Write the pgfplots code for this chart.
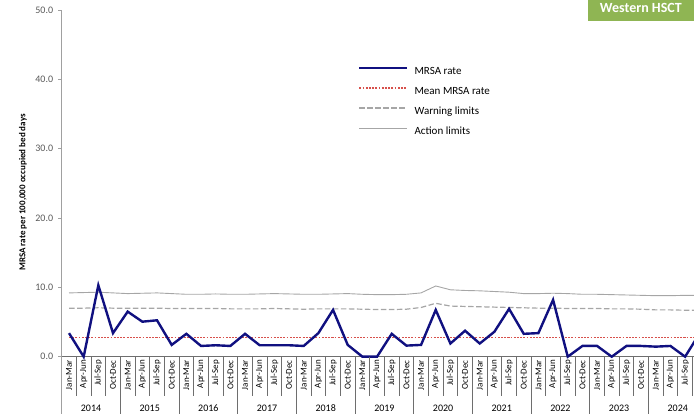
\documentclass[border=0pt]{standalone}
\usepackage{fontspec}
\setmainfont{Carlito}
\usepackage{pgfplots}
\usepackage{pgfplotstable}
\pgfplotsset{compat=1.18}
\definecolor{mrsa}{RGB}{16,16,128}
\definecolor{meanc}{RGB}{215,80,75}
\definecolor{limc}{RGB}{166,166,166}
\definecolor{axc}{RGB}{160,160,160}
\definecolor{sepc}{RGB}{110,110,110}
\definecolor{titlec}{RGB}{143,181,83}
\definecolor{tickc}{RGB}{89,89,89}

\pgfplotstableread{
x rate mean warn act
0 3.4 2.74 7.00 9.20
1 0 2.74 7.00 9.25
2 10.3 2.74 7.05 9.30
3 3.4 2.74 7.00 9.20
4 6.5 2.74 7.00 9.10
5 5.05 2.74 7.00 9.15
6 5.25 2.74 7.00 9.20
7 1.7 2.74 6.95 9.10
8 3.3 2.74 6.95 9.00
9 1.55 2.74 6.95 9.00
10 1.65 2.74 6.95 9.05
11 1.55 2.74 6.90 9.00
12 3.3 2.74 6.90 9.00
13 1.65 2.74 6.90 9.05
14 1.65 2.74 6.95 9.10
15 1.65 2.74 6.90 9.05
16 1.55 2.74 6.85 9.00
17 3.4 2.74 6.90 9.00
18 6.75 2.74 6.90 9.05
19 1.7 2.74 6.90 9.10
20 0 2.74 6.85 9.00
21 0 2.74 6.80 8.95
22 3.3 2.74 6.80 8.95
23 1.6 2.74 6.85 9.00
24 1.7 2.74 7.10 9.20
25 6.75 2.74 7.70 10.20
26 1.9 2.74 7.30 9.65
27 3.75 2.74 7.25 9.55
28 1.9 2.74 7.20 9.50
29 3.6 2.74 7.15 9.40
30 6.9 2.74 7.10 9.30
31 3.3 2.74 7.05 9.10
32 3.4 2.74 7.00 9.10
33 8.2 2.74 7.00 9.15
34 0 2.74 6.95 9.10
35 1.55 2.74 6.95 9.00
36 1.55 2.74 6.95 9.00
37 0 2.74 6.90 8.95
38 1.55 2.74 6.90 8.90
39 1.55 2.74 6.85 8.85
40 1.45 2.74 6.75 8.80
41 1.55 2.74 6.75 8.80
42 0 2.74 6.70 8.85
43 3.4 2.74 6.70 8.85
}\data

\begin{document}
\begin{tikzpicture}
\useasboundingbox (-61.67pt,-57.3pt) rectangle (632.33pt,356.7pt);
\clip (-61.67pt,-57.3pt) rectangle (632.33pt,356.7pt);
\begin{axis}[
  scale only axis, width=633.7pt, height=346.7pt,
  xmin=-0.5, xmax=42.7, ymin=0, ymax=50,
  clip=false,
  axis x line*=bottom, axis y line*=left,
  x axis line style={draw=sepc, line width=0.8pt},
  y axis line style={draw=axc, line width=1.5pt},
  xtick={0,...,43},
  xticklabels={Jan-Mar,Apr-Jun,Jul-Sep,Oct-Dec,Jan-Mar,Apr-Jun,Jul-Sep,Oct-Dec,Jan-Mar,Apr-Jun,Jul-Sep,Oct-Dec,Jan-Mar,Apr-Jun,Jul-Sep,Oct-Dec,Jan-Mar,Apr-Jun,Jul-Sep,Oct-Dec,Jan-Mar,Apr-Jun,Jul-Sep,Oct-Dec,Jan-Mar,Apr-Jun,Jul-Sep,Oct-Dec,Jan-Mar,Apr-Jun,Jul-Sep,Oct-Dec,Jan-Mar,Apr-Jun,Jul-Sep,Oct-Dec,Jan-Mar,Apr-Jun,Jul-Sep,Oct-Dec,Jan-Mar,Apr-Jun,Jul-Sep,Oct-Dec},
  xticklabel style={rotate=90, anchor=east, font=\fontsize{9}{11}\selectfont},
  ytick={0,10,...,50}, minor ytick={0,10,...,50},
  major tick length=0pt, minor tick length=3.5pt, tick align=outside,
  minor tick style={draw=axc, line width=0.8pt},
  /pgf/number format/assume math mode=true,
  yticklabel style={font=\fontsize{10}{12}\selectfont, text=tickc, xshift=-5pt,
    /pgf/number format/fixed, /pgf/number format/fixed zerofill, /pgf/number format/precision=1},
  ylabel={MRSA rate per 100,000 occupied bed days},
  ylabel style={at={(axis description cs:-0.061,0.474)}, anchor=center, font=\bfseries\fontsize{9}{11}\selectfont},
  title={Western HSCT},
  title style={at={(axis description cs:0.914,0.988)}, anchor=center, fill=titlec, text=white,
    font=\bfseries\fontsize{14}{16}\selectfont, minimum width=106pt, minimum height=25pt, inner sep=0pt},
  legend style={at={(axis description cs:0.4676,0.8376)}, anchor=north west, draw=none, fill=none,
    font=\fontsize{11}{13}\selectfont, inner sep=0pt, column sep=6.3pt, row sep=10pt,
    nodes={inner sep=0pt, text height=8pt, text depth=2pt}},
  legend cell align=left,
  legend image code/.code={\draw[#1] (0pt,3.5pt) -- (47.7pt,3.5pt);},
]
\addlegendimage{mrsa, line width=2.4pt}
\addlegendentry{MRSA rate}
\addlegendimage{color=meanc, line width=1.2pt, dash pattern=on 1.8pt off 1.4pt}
\addlegendentry{Mean MRSA rate}
\addlegendimage{limc, line width=1.2pt, dash pattern=on 5.5pt off 2.5pt}
\addlegendentry{Warning limits}
\addlegendimage{limc, line width=0.9pt}
\addlegendentry{Action limits}

\addplot[color=limc, line width=0.9pt, forget plot] table[x=x, y=act] {\data};
\addplot[color=limc, line width=1.2pt, dash pattern=on 5.5pt off 2.5pt, forget plot] table[x=x, y=warn] {\data};
\addplot[color=meanc, line width=1.2pt, dash pattern=on 1.8pt off 1.4pt, forget plot] table[x=x, y=mean] {\data};
\addplot[color=mrsa, line width=2.4pt, line join=miter, forget plot] table[x=x, y=rate] {\data};

\pgfplotsinvokeforeach{0.5,1.5,...,42.5}{\draw[sepc, line width=0.6pt] (axis cs:#1,0) -- ++(0pt,-39.3pt);}
\pgfplotsinvokeforeach{3.5,7.5,...,39.5}{\draw[sepc, line width=0.6pt] (axis cs:#1,0) -- ++(0pt,-60pt);}
\draw[axc, line width=1.5pt] (axis cs:-0.5,0) -- ++(0pt,-60pt);

\node[font=\fontsize{10}{12}\selectfont, yshift=-51.3pt] at (axis cs:1.5,0) {2014};
\node[font=\fontsize{10}{12}\selectfont, yshift=-51.3pt] at (axis cs:5.5,0) {2015};
\node[font=\fontsize{10}{12}\selectfont, yshift=-51.3pt] at (axis cs:9.5,0) {2016};
\node[font=\fontsize{10}{12}\selectfont, yshift=-51.3pt] at (axis cs:13.5,0) {2017};
\node[font=\fontsize{10}{12}\selectfont, yshift=-51.3pt] at (axis cs:17.5,0) {2018};
\node[font=\fontsize{10}{12}\selectfont, yshift=-51.3pt] at (axis cs:21.5,0) {2019};
\node[font=\fontsize{10}{12}\selectfont, yshift=-51.3pt] at (axis cs:25.5,0) {2020};
\node[font=\fontsize{10}{12}\selectfont, yshift=-51.3pt] at (axis cs:29.5,0) {2021};
\node[font=\fontsize{10}{12}\selectfont, yshift=-51.3pt] at (axis cs:33.5,0) {2022};
\node[font=\fontsize{10}{12}\selectfont, yshift=-51.3pt] at (axis cs:37.5,0) {2023};
\node[font=\fontsize{10}{12}\selectfont, yshift=-51.3pt] at (axis cs:41.5,0) {2024};
\end{axis}
\end{tikzpicture}
\end{document}
